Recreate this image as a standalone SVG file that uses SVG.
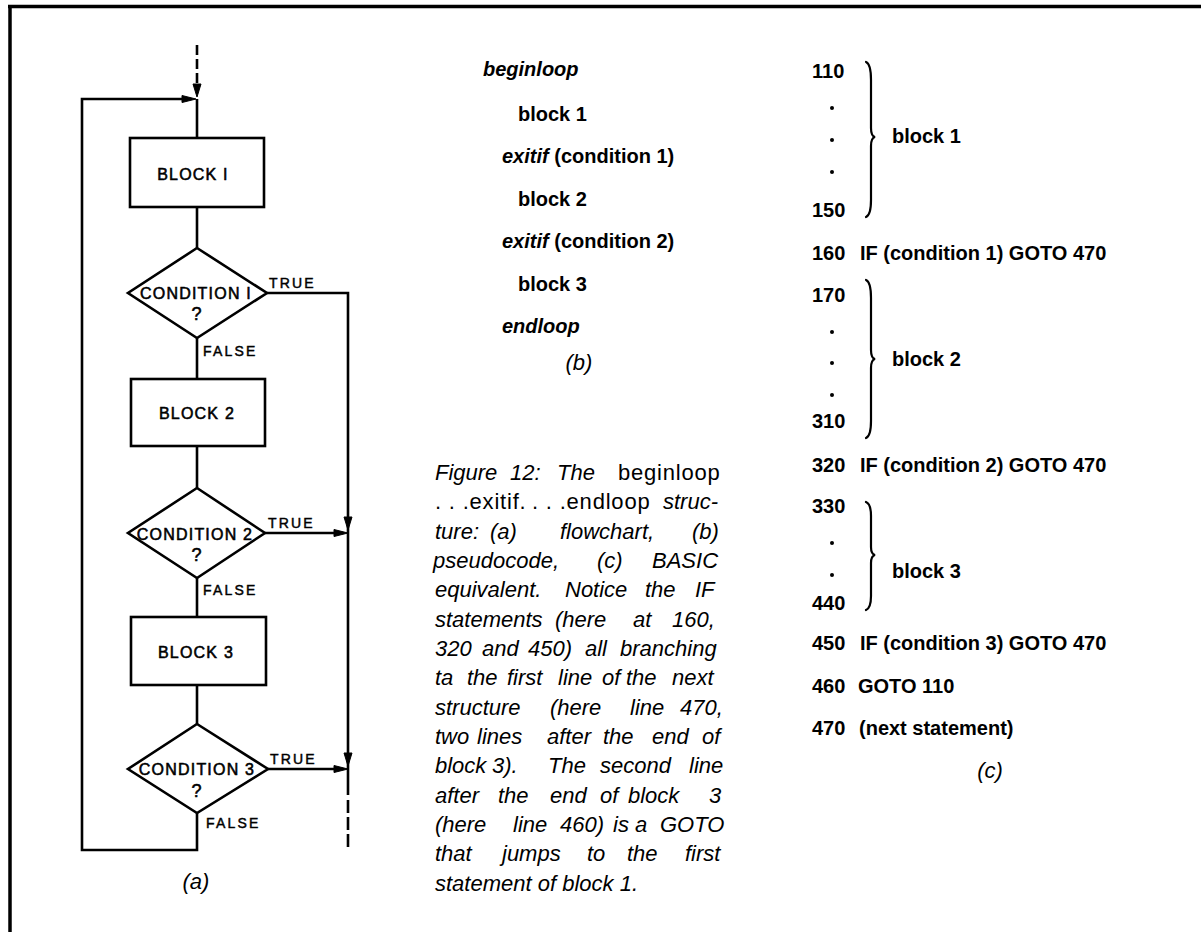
<svg xmlns="http://www.w3.org/2000/svg" width="1201" height="932" viewBox="0 0 1201 932">
<style>
.ln{stroke:#000;stroke-width:2.6;fill:none}
.dash{stroke:#000;stroke-width:2.6;fill:none;stroke-dasharray:10 4}
.box{fill:#fff;stroke:#000;stroke-width:2.6}
.ah{fill:#000;stroke:#000;stroke-width:1}
.fc{font-family:"Liberation Sans",Arial,sans-serif;font-size:16px;letter-spacing:1.2px;fill:#000;stroke:#000;stroke-width:0.55}
.q{font-size:18px}
.lb{font-family:"Liberation Sans",Arial,sans-serif;font-size:14px;letter-spacing:2.2px;fill:#000;stroke:#000;stroke-width:0.45}
.cap{font-family:"Liberation Sans",Arial,sans-serif;font-size:22px;font-style:italic;fill:#000}
.up{font-style:normal;letter-spacing:0.8px}
.code{font-family:"Liberation Sans",Arial,sans-serif;font-size:20px;font-weight:bold;fill:#000}
.it{font-style:italic}
.brace{stroke:#000;stroke-width:2.2;fill:none;stroke-linecap:round}
</style>

<g id="frame">
<line x1="8" y1="6.5" x2="1201" y2="6.5" stroke="#000" stroke-width="3.5"/>
<line x1="10" y1="5" x2="10" y2="932" stroke="#000" stroke-width="3.5"/>
</g>

<g id="connectors">
<line class="dash" x1="197" y1="45" x2="197" y2="86"/>
<polygon class="ah" points="197,97 193,84 201,84"/>
<polyline class="ln" points="197,99 197,138"/>
<line class="ln" x1="197" y1="207" x2="197" y2="248"/>
<line class="ln" x1="197" y1="338" x2="197" y2="379"/>
<line class="ln" x1="197" y1="446" x2="197" y2="488"/>
<line class="ln" x1="197" y1="578" x2="197" y2="617"/>
<line class="ln" x1="197" y1="685" x2="197" y2="724"/>
<polyline class="ln" points="197,813 197,850 82,850 82,99 184,99"/>
<polygon class="ah" points="196,99 182,95.5 182,102.5"/>
<polyline class="ln" points="267,293 348,293 348,795"/>
<line class="ln" x1="348" y1="800" x2="348" y2="850" stroke-dasharray="13 4"/>
<line class="ln" x1="265" y1="533" x2="336" y2="533"/>
<polygon class="ah" points="348,533 334,529.5 334,536.5"/>
<polygon class="ah" points="348,530 344,517 352,517"/>
<line class="ln" x1="268" y1="769" x2="336" y2="769"/>
<polygon class="ah" points="348,769 334,765.5 334,772.5"/>
<polygon class="ah" points="348,766 344,753 352,753"/>
</g>

<g id="block1">
<rect class="box" x="130" y="138" width="134" height="69"/>
<text class="fc" x="193" y="180" text-anchor="middle">BLOCK I</text>
</g>
<g id="cond1">
<polygon class="box" points="197,248 267,293 197,338 128,293"/>
<text class="fc" x="196" y="299" text-anchor="middle">CONDITION I</text>
<text class="fc q" x="197" y="320" text-anchor="middle">?</text>
<text class="lb" x="269" y="288">TRUE</text>
<text class="lb" x="203" y="356">FALSE</text>
</g>
<g id="block2">
<rect class="box" x="131" y="379" width="134" height="67"/>
<text class="fc" x="197" y="419" text-anchor="middle">BLOCK 2</text>
</g>
<g id="cond2">
<polygon class="box" points="197,488 265,533 197,578 128,533"/>
<text class="fc" x="195" y="540" text-anchor="middle">CONDITION 2</text>
<text class="fc q" x="197" y="561" text-anchor="middle">?</text>
<text class="lb" x="268" y="528">TRUE</text>
<text class="lb" x="203" y="595">FALSE</text>
</g>
<g id="block3">
<rect class="box" x="131" y="617" width="135" height="68"/>
<text class="fc" x="196" y="658" text-anchor="middle">BLOCK 3</text>
</g>
<g id="cond3">
<polygon class="box" points="197,724 268,769 197,813 128,769"/>
<text class="fc" x="197" y="775" text-anchor="middle">CONDITION 3</text>
<text class="fc q" x="197" y="797" text-anchor="middle">?</text>
<text class="lb" x="270" y="764">TRUE</text>
<text class="lb" x="206" y="828">FALSE</text>
</g>
<text class="cap" x="196" y="889" text-anchor="middle">(a)</text>

<g id="pseudocode">
<text class="code it" x="483" y="76">beginloop</text>
<text class="code" x="518" y="121">block 1</text>
<text class="code" x="502" y="163"><tspan class="it">exitif</tspan> (condition 1)</text>
<text class="code" x="518" y="206">block 2</text>
<text class="code" x="502" y="248"><tspan class="it">exitif</tspan> (condition 2)</text>
<text class="code" x="518" y="291">block 3</text>
<text class="code it" x="502" y="333">endloop</text>
<text class="cap" x="579" y="370" text-anchor="middle">(b)</text>
</g>

<g id="basic">
<text class="code" x="812" y="78">110</text>
<circle cx="832" cy="108" r="2"/>
<circle cx="832" cy="140" r="2"/>
<circle cx="832" cy="172" r="2"/>
<text class="code" x="812" y="217">150</text>
<path class="brace" d="M866,62 Q871,64 871,80 L871,128 Q871,136 875,137 Q871,138 871,146 L871,200 Q871,215 866,217"/>
<text class="code" x="892" y="143">block 1</text>
<text class="code" x="812" y="260">160</text>
<text class="code" x="860" y="260">IF (condition 1) GOTO 470</text>
<text class="code" x="812" y="302">170</text>
<circle cx="832" cy="332" r="2"/>
<circle cx="832" cy="363" r="2"/>
<circle cx="832" cy="395" r="2"/>
<text class="code" x="812" y="428">310</text>
<path class="brace" d="M866,280 Q871,282 871,298 L871,350 Q871,358 875,359 Q871,360 871,368 L871,421 Q871,436 866,438"/>
<text class="code" x="892" y="366">block 2</text>
<text class="code" x="812" y="472">320</text>
<text class="code" x="860" y="472">IF (condition 2) GOTO 470</text>
<text class="code" x="812" y="513">330</text>
<circle cx="832" cy="543" r="2"/>
<circle cx="832" cy="575" r="2"/>
<text class="code" x="812" y="610">440</text>
<path class="brace" d="M866,502 Q871,504 871,516 L871,547 Q871,554 875,555 Q871,556 871,563 L871,596 Q871,608 866,610"/>
<text class="code" x="892" y="578">block 3</text>
<text class="code" x="812" y="650">450</text>
<text class="code" x="860" y="650">IF (condition 3) GOTO 470</text>
<text class="code" x="812" y="693">460</text>
<text class="code" x="858" y="693">GOTO 110</text>
<text class="code" x="812" y="735">470</text>
<text class="code" x="859" y="735">(next statement)</text>
<text class="cap" x="990" y="778" text-anchor="middle">(c)</text>
</g>

<g id="caption">
<text class="cap" y="480"><tspan x="435">Figure</tspan><tspan x="510">12:</tspan><tspan x="557">The</tspan><tspan x="618" class="up">beginloop</tspan></text>
<text class="cap" y="509"><tspan x="435" class="up">. . .exitif.</tspan><tspan x="532" class="up">. . .endloop</tspan><tspan x="663">struc-</tspan></text>
<text class="cap" y="539"><tspan x="435">ture:</tspan><tspan x="490">(a)</tspan><tspan x="560">flowchart,</tspan><tspan x="692">(b)</tspan></text>
<text class="cap" y="568"><tspan x="433">pseudocode,</tspan><tspan x="597">(c)</tspan><tspan x="652">BASIC</tspan></text>
<text class="cap" y="597"><tspan x="435">equivalent.</tspan><tspan x="565">Notice</tspan><tspan x="645">the</tspan><tspan x="695">IF</tspan></text>
<text class="cap" y="627"><tspan x="435">statements</tspan><tspan x="555">(here</tspan><tspan x="633">at</tspan><tspan x="672">160,</tspan></text>
<text class="cap" y="656"><tspan x="435">320</tspan><tspan x="482">and</tspan><tspan x="528">450)</tspan><tspan x="585">all</tspan><tspan x="620">branching</tspan></text>
<text class="cap" y="685"><tspan x="435">ta</tspan><tspan x="467">the</tspan><tspan x="507">first</tspan><tspan x="558">line</tspan><tspan x="602">of</tspan><tspan x="626">the</tspan><tspan x="672">next</tspan></text>
<text class="cap" y="715"><tspan x="435">structure</tspan><tspan x="550">(here</tspan><tspan x="630">line</tspan><tspan x="680">470,</tspan></text>
<text class="cap" y="744"><tspan x="435">two</tspan><tspan x="477">lines</tspan><tspan x="547">after</tspan><tspan x="603">the</tspan><tspan x="652">end</tspan><tspan x="702">of</tspan></text>
<text class="cap" y="773"><tspan x="435">block</tspan><tspan x="492">3).</tspan><tspan x="548">The</tspan><tspan x="600">second</tspan><tspan x="689">line</tspan></text>
<text class="cap" y="803"><tspan x="435">after</tspan><tspan x="498">the</tspan><tspan x="550">end</tspan><tspan x="600">of</tspan><tspan x="628">block</tspan><tspan x="709">3</tspan></text>
<text class="cap" y="832"><tspan x="435">(here</tspan><tspan x="513">line</tspan><tspan x="560">460)</tspan><tspan x="613">is</tspan><tspan x="635">a</tspan><tspan x="660">GOTO</tspan></text>
<text class="cap" y="861"><tspan x="435">that</tspan><tspan x="502">jumps</tspan><tspan x="587">to</tspan><tspan x="627">the</tspan><tspan x="685">first</tspan></text>
<text class="cap" x="435" y="891">statement of block 1.</text>
</g>
</svg>
